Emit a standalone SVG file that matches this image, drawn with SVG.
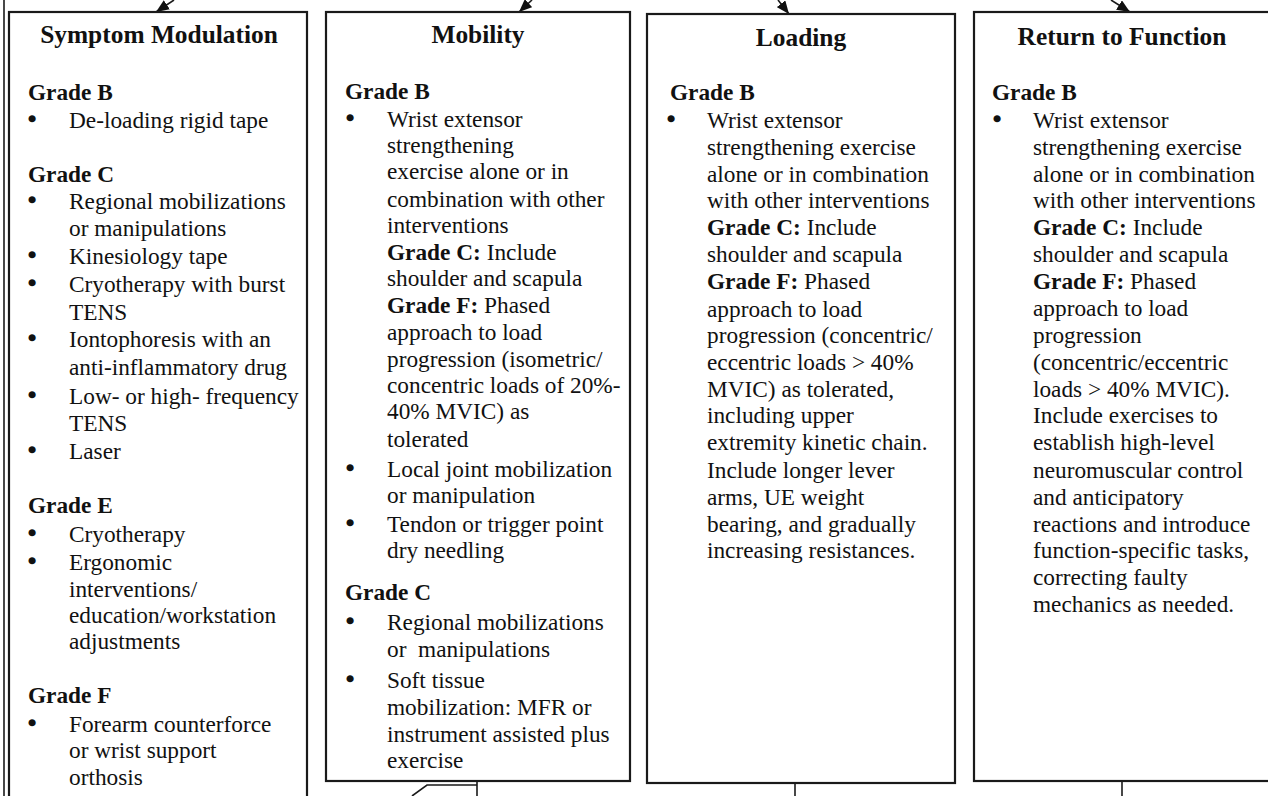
<svg xmlns="http://www.w3.org/2000/svg" width="1268" height="796" viewBox="0 0 1268 796">
<style>
.box{fill:#fff;stroke:#1a1a1a;stroke-width:2.2}
.t{font-family:"Liberation Serif","Times New Roman",serif;font-size:23.3px;fill:#111}
.b{font-weight:bold}
.u{stroke:#111;stroke-width:1.6}
.h{font-family:"Liberation Serif","Times New Roman",serif;font-size:25.4px;font-weight:bold;fill:#111;text-anchor:middle}
.c{stroke:#1a1a1a;stroke-width:1.6;fill:none}
</style>
<defs>
<marker id="ah" viewBox="0 0 13 11" refX="13" refY="5.5" markerWidth="13" markerHeight="11" markerUnits="userSpaceOnUse" orient="auto">
<path d="M0,0 L13,5.5 L0,11 Z" fill="#111"/>
</marker>
</defs>
<rect width="1268" height="796" fill="#fff"/>
<line x1="4" y1="0" x2="4" y2="796" class="c"/>
<g id="connectors">
<line x1="174" y1="0" x2="156" y2="12" class="c" marker-end="url(#ah)"/>
<line x1="532" y1="0" x2="519" y2="12" class="c" marker-end="url(#ah)"/>
<line x1="778" y1="0" x2="789" y2="14" class="c" marker-end="url(#ah)"/>
<line x1="1111" y1="0" x2="1130" y2="12" class="c" marker-end="url(#ah)"/>
<path d="M477,782 V796 M477,785 H427 L412,796" class="c"/>
<line x1="795" y1="783" x2="795" y2="796" class="c"/>
<line x1="1122" y1="781" x2="1122" y2="796" class="c"/>
</g>
<g id="symptom-modulation">
<rect class="box" x="9" y="12" width="298" height="820"/>
<text class="h" x="159" y="43">Symptom Modulation</text>
<text class="t b" x="28" y="100">Grade B</text>
<text class="t" y="128"><tspan class="u" x="28" dy="-1">•</tspan><tspan x="69" dy="1">De-loading rigid tape</tspan></text>
<text class="t b" x="28" y="182">Grade C</text>
<text class="t" y="209"><tspan class="u" x="28" dy="-1">•</tspan><tspan x="69" dy="1">Regional mobilizations</tspan></text>
<text class="t" x="69" y="236">or manipulations</text>
<text class="t" y="264"><tspan class="u" x="28" dy="-1">•</tspan><tspan x="69" dy="1">Kinesiology tape</tspan></text>
<text class="t" y="292"><tspan class="u" x="28" dy="-1">•</tspan><tspan x="69" dy="1">Cryotherapy with burst</tspan></text>
<text class="t" x="69" y="320">TENS</text>
<text class="t" y="347"><tspan class="u" x="28" dy="-1">•</tspan><tspan x="69" dy="1">Iontophoresis with an</tspan></text>
<text class="t" x="69" y="375">anti-inflammatory drug</text>
<text class="t" y="404"><tspan class="u" x="28" dy="-1">•</tspan><tspan x="69" dy="1">Low- or high- frequency</tspan></text>
<text class="t" x="69" y="431">TENS</text>
<text class="t" y="459"><tspan class="u" x="28" dy="-1">•</tspan><tspan x="69" dy="1">Laser</tspan></text>
<text class="t b" x="28" y="513">Grade E</text>
<text class="t" y="542"><tspan class="u" x="28" dy="-1">•</tspan><tspan x="69" dy="1">Cryotherapy</tspan></text>
<text class="t" y="570"><tspan class="u" x="28" dy="-1">•</tspan><tspan x="69" dy="1">Ergonomic</tspan></text>
<text class="t" x="69" y="597">interventions/</text>
<text class="t" x="69" y="623">education/workstation</text>
<text class="t" x="69" y="649">adjustments</text>
<text class="t b" x="28" y="703">Grade F</text>
<text class="t" y="732"><tspan class="u" x="28" dy="-1">•</tspan><tspan x="69" dy="1">Forearm counterforce</tspan></text>
<text class="t" x="69" y="758">or wrist support</text>
<text class="t" x="69" y="785">orthosis</text>
</g>
<g id="mobility">
<rect class="box" x="326" y="12" width="304" height="769"/>
<text class="h" x="478" y="43">Mobility</text>
<text class="t b" x="345" y="99">Grade B</text>
<text class="t" y="127"><tspan class="u" x="346" dy="-1">•</tspan><tspan x="387" dy="1">Wrist extensor</tspan></text>
<text class="t" x="387" y="153">strengthening</text>
<text class="t" x="387" y="179">exercise alone or in</text>
<text class="t" x="387" y="207">combination with other</text>
<text class="t" x="387" y="233">interventions</text>
<text class="t" x="387" y="260"><tspan class="b">Grade C:</tspan> Include</text>
<text class="t" x="387" y="286">shoulder and scapula</text>
<text class="t" x="387" y="313"><tspan class="b">Grade F:</tspan> Phased</text>
<text class="t" x="387" y="340">approach to load</text>
<text class="t" x="387" y="367">progression (isometric/</text>
<text class="t" x="387" y="393">concentric loads of 20%-</text>
<text class="t" x="387" y="419">40% MVIC) as</text>
<text class="t" x="387" y="447">tolerated</text>
<text class="t" y="477"><tspan class="u" x="346" dy="-1">•</tspan><tspan x="387" dy="1">Local joint mobilization</tspan></text>
<text class="t" x="387" y="503">or manipulation</text>
<text class="t" y="532"><tspan class="u" x="346" dy="-1">•</tspan><tspan x="387" dy="1">Tendon or trigger point</tspan></text>
<text class="t" x="387" y="558">dry needling</text>
<text class="t b" x="345" y="600">Grade C</text>
<text class="t" y="630"><tspan class="u" x="346" dy="-1">•</tspan><tspan x="387" dy="1">Regional mobilizations</tspan></text>
<text class="t" x="387" y="657" xml:space="preserve">or  manipulations</text>
<text class="t" y="688"><tspan class="u" x="346" dy="-1">•</tspan><tspan x="387" dy="1">Soft tissue</tspan></text>
<text class="t" x="387" y="715">mobilization: MFR or</text>
<text class="t" x="387" y="742">instrument assisted plus</text>
<text class="t" x="387" y="768">exercise</text>
</g>
<g id="loading">
<rect class="box" x="647" y="14" width="308" height="769"/>
<text class="h" x="801" y="46">Loading</text>
<text class="t b" x="670" y="100">Grade B</text>
<text class="t" y="128"><tspan class="u" x="667" dy="-1">•</tspan><tspan x="707" dy="1">Wrist extensor</tspan></text>
<text class="t" x="707" y="155">strengthening exercise</text>
<text class="t" x="707" y="182">alone or in combination</text>
<text class="t" x="707" y="208">with other interventions</text>
<text class="t" x="707" y="235"><tspan class="b">Grade C:</tspan> Include</text>
<text class="t" x="707" y="262">shoulder and scapula</text>
<text class="t" x="707" y="289"><tspan class="b">Grade F:</tspan> Phased</text>
<text class="t" x="707" y="317">approach to load</text>
<text class="t" x="707" y="343">progression (concentric/</text>
<text class="t" x="707" y="370">eccentric loads &gt; 40%</text>
<text class="t" x="707" y="397">MVIC) as tolerated,</text>
<text class="t" x="707" y="423">including upper</text>
<text class="t" x="707" y="450">extremity kinetic chain.</text>
<text class="t" x="707" y="478">Include longer lever</text>
<text class="t" x="707" y="505">arms, UE weight</text>
<text class="t" x="707" y="532">bearing, and gradually</text>
<text class="t" x="707" y="558">increasing resistances.</text>
</g>
<g id="return-to-function">
<rect class="box" x="974" y="12" width="300" height="769"/>
<text class="h" x="1122" y="45">Return to Function</text>
<text class="t b" x="992" y="100">Grade B</text>
<text class="t" y="128"><tspan class="u" x="993" dy="-1">•</tspan><tspan x="1033" dy="1">Wrist extensor</tspan></text>
<text class="t" x="1033" y="155">strengthening exercise</text>
<text class="t" x="1033" y="182">alone or in combination</text>
<text class="t" x="1033" y="208">with other interventions</text>
<text class="t" x="1033" y="235"><tspan class="b">Grade C:</tspan> Include</text>
<text class="t" x="1033" y="262">shoulder and scapula</text>
<text class="t" x="1033" y="289"><tspan class="b">Grade F:</tspan> Phased</text>
<text class="t" x="1033" y="316">approach to load</text>
<text class="t" x="1033" y="343">progression</text>
<text class="t" x="1033" y="370">(concentric/eccentric</text>
<text class="t" x="1033" y="397">loads &gt; 40% MVIC).</text>
<text class="t" x="1033" y="423">Include exercises to</text>
<text class="t" x="1033" y="450">establish high-level</text>
<text class="t" x="1033" y="478">neuromuscular control</text>
<text class="t" x="1033" y="505">and anticipatory</text>
<text class="t" x="1033" y="532">reactions and introduce</text>
<text class="t" x="1033" y="558">function-specific tasks,</text>
<text class="t" x="1033" y="585">correcting faulty</text>
<text class="t" x="1033" y="612">mechanics as needed.</text>
</g>
</svg>
